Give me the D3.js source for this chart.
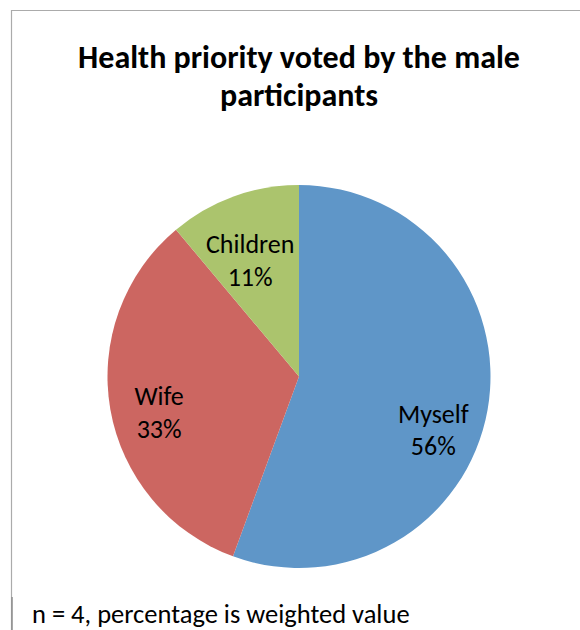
<!DOCTYPE html>
<html>
<head>
<meta charset="utf-8">
<script src="https://cdn.jsdelivr.net/npm/d3@7"></script>
<style>
  html, body { margin: 0; padding: 0; background: #fff; }
  svg { display: block; font-family: Carlito, Calibri, "Open Sans", sans-serif; }
</style>
</head>
<body>
<div id="chart"></div>
<script>
// data (weighted shares, labels rounded)
const categories = ["Myself", "Wife", "Children"];
const shares = [55.6, 33.3, 11.1];
const colours = ["#5F96C8", "#CC6661", "#ABC46D"];
const titleLines = ["Health priority voted by the male", "participants"];
const footnote = "n = 4, percentage is weighted value";

const W = 580, H = 630;
const svg = d3.select("#chart").append("svg").attr("width", W).attr("height", H);

// chart frame (only top + left edges are inside the picture)
svg.append("path").attr("d", `M11.5,${H} V10.5 H${W}`)
  .attr("fill", "none").attr("stroke", "#ABABAB").attr("stroke-width", 1.2);
svg.append("line").attr("x1", 12).attr("x2", 12).attr("y1", 597).attr("y2", H)
  .attr("stroke", "#8E8E8E").attr("stroke-width", 1.5);
svg.append("rect").attr("x", 13).attr("y", 594).attr("width", 2).attr("height", 3).attr("fill", "#fff");

// title
svg.append("text").attr("text-anchor", "middle").attr("font-weight", "bold")
  .attr("font-size", 32).attr("fill", "#000")
  .selectAll("tspan").data(titleLines).join("tspan")
  .attr("x", 299).attr("y", (d, i) => 68 + i * 38).text(d => d);

// pie
const cx = 299, cy = 376.5, R = 191.5;
const pie = d3.pie().sort(null).value(d => d.v);
const arcs = pie(categories.map((c, i) => ({ c, v: shares[i], col: colours[i] })));
const arc = d3.arc().innerRadius(0).outerRadius(R);
const labelArc = d3.arc().innerRadius(143).outerRadius(143);

const g = svg.append("g").attr("transform", `translate(${cx},${cy})`);
g.selectAll("path.slice").data(arcs).join("path")
  .attr("class", "slice").attr("d", arc).attr("fill", d => d.data.col);

// Excel "best fit" label placement: centroid plus small nudges
const nudge = { Myself: [-6.5, 21], Wife: [1, 4], Children: [0, 11] };
const lab = g.selectAll("text.lab").data(arcs).join("text")
  .attr("class", "lab").attr("text-anchor", "middle").attr("font-size", 26).attr("fill", "#000");
lab.each(function (d) {
  const [x, y] = labelArc.centroid(d);
  const [nx, ny] = nudge[d.data.c];
  const t = d3.select(this);
  t.append("tspan").attr("x", x + nx).attr("y", y + ny).text(d.data.c);
  t.append("tspan").attr("x", x + nx).attr("y", y + ny + 32.5).text(Math.round(d.data.v) + "%");
});

// footnote
svg.append("text").attr("x", 32).attr("y", 623).attr("font-size", 26.5).attr("fill", "#000")
  .text(footnote);
</script>
</body>
</html>
